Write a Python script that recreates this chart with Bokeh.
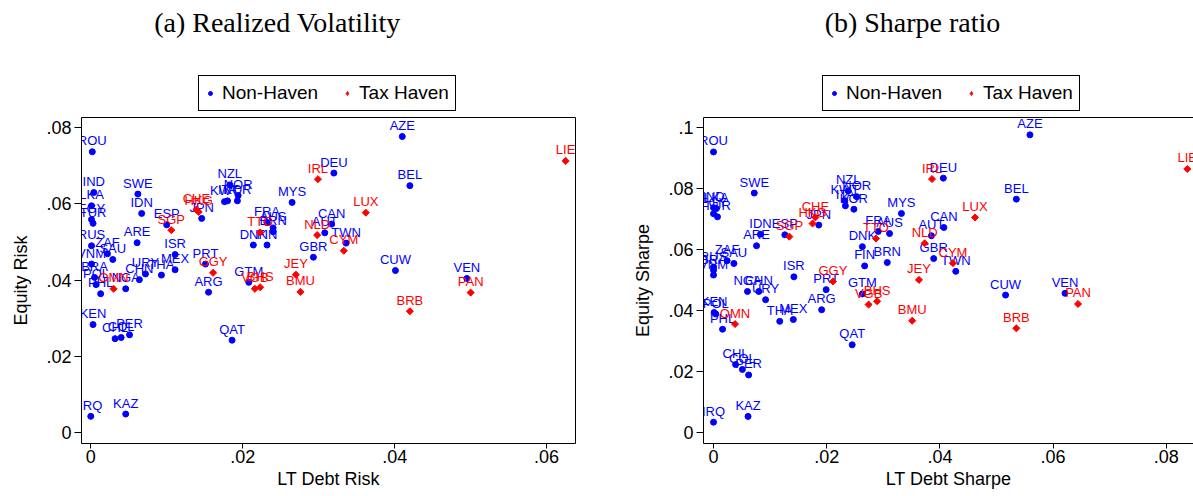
from bokeh.plotting import figure
from bokeh.models import (ColumnDataSource, Range1d, FixedTicker, CustomJSTickFormatter,
                          Legend, LegendItem, Label, LinearAxis)
from bokeh.layouts import row, column
from bokeh.embed import file_html
from bokeh.resources import INLINE
from bokeh.core.properties import value

countries = ["ROU","IND","LKA","EGY","TUR","RUS","ZAF","SAU","VNM","BRA","POL","PHL","NGA","CHN",
             "URY","THA","MEX","ISR","ARE","SWE","IDN","ESP","JPN","PRT","ARG","KEN","CHL","COL",
             "PER","IRQ","KAZ","QAT","GTM","KWT","ITA","KOR","NOR","NZL","MYS","DEU","FRA","AUS",
             "BRN","DNK","FIN","CAN","AUT","TWN","GBR","AZE","BEL","CUW","VEN",
             "CHE","HKG","SGP","GGY","OMN","TTO","VGB","BHS","JEY","BMU","IRL","NLD","CYM","LUX",
             "BRB","PAN","LIE"]
haven = [0]*53 + [1]*17

vol_debt = [.0002,.0004,.0001,.0001,.0003,.0001,.0022,.0029,.0001,.0005,.0007,.0013,.0046,.0064,
            .0072,.0093,.0111,.0111,.0061,.0062,.0067,.0100,.0146,.0151,.0155,.0003,.0032,.0040,
            .0051,.0000,.0046,.0186,.0208,.0176,.0180,.0193,.0194,.0183,.0265,.0320,.0232,.0240,
            .0240,.0214,.0232,.0317,.0308,.0336,.0293,.0410,.0420,.0401,.0495,
            .0139,.0142,.0106,.0161,.0030,.0223,.0216,.0223,.0270,.0276,.0299,.0298,.0333,.0362,
            .0420,.0500,.0625]
vol_equity = [.0737,.0630,.0595,.0559,.0549,.0490,.0469,.0454,.0442,.0407,.0388,.0364,.0377,.0401,
              .0416,.0413,.0427,.0467,.0498,.0626,.0575,.0545,.0562,.0442,.0368,.0283,.0246,.0249,
              .0256,.0042,.0048,.0242,.0394,.0606,.0608,.0608,.0622,.0650,.0604,.0681,.0551,.0537,
              .0527,.0492,.0492,.0547,.0524,.0497,.0460,.0777,.0648,.0425,.0404,
              .0585,.0579,.0531,.0419,.0377,.0525,.0377,.0381,.0414,.0369,.0665,.0518,.0477,.0577,
              .0318,.0367,.0713]
sharpe_debt = [.0000,.0000,.0005,.0000,.0007,.0000,.0024,.0036,.0000,.0000,.0004,.0016,.0060,.0080,
               .0092,.0117,.0141,.0142,.0076,.0072,.0083,.0126,.0186,.0199,.0191,.0001,.0039,.0051,
               .0062,.0000,.0061,.0245,.0263,.0232,.0233,.0248,.0253,.0238,.0332,.0406,.0291,.0311,
               .0307,.0263,.0267,.0407,.0385,.0428,.0389,.0559,.0535,.0516,.0621,
               .0180,.0175,.0134,.0211,.0038,.0287,.0274,.0289,.0363,.0351,.0386,.0373,.0423,.0462,
               .0535,.0644,.0837]
sharpe_equity = [.0920,.0737,.0734,.0717,.0707,.0542,.0563,.0554,.0516,.0532,.0388,.0338,.0462,.0462,
                 .0435,.0364,.0370,.0510,.0612,.0785,.0650,.0648,.0680,.0468,.0402,.0393,.0222,.0206,
                 .0188,.0033,.0052,.0287,.0454,.0760,.0743,.0732,.0773,.0792,.0718,.0834,.0659,.0652,
                 .0557,.0609,.0546,.0672,.0645,.0528,.0570,.0976,.0765,.0450,.0456,
                 .0705,.0685,.0642,.0495,.0355,.0636,.0419,.0430,.0500,.0366,.0831,.0620,.0555,.0705,
                 .0341,.0421,.0864]

FONT = "Liberation Sans"
BLUE = "#0000ff"
RED = "#ff0000"

fmt = CustomJSTickFormatter(code="""
if (Math.abs(tick) < 1e-9) { return "0"; }
let t = tick.toFixed(2).replace(/^0/, "");
t = t.replace(/0+$/, "");
return t;
""")


def bare_axis():
    return LinearAxis(ticker=FixedTicker(ticks=[]), major_tick_line_color=None,
                      minor_tick_line_color=None, major_label_text_font_size="0px",
                      major_tick_out=0, major_tick_in=0, major_label_standoff=0,
                      axis_line_color="black")


def header(width, title, title_x, leg_x):
    h = figure(output_backend="svg", toolbar_location=None, width=width, height=113,
               x_axis_type=None, y_axis_type=None, min_border=0,
               x_range=Range1d(0, width), y_range=Range1d(0, 113))
    h.grid.visible = False
    h.outline_line_color = None
    h.background_fill_color = "white"
    h.border_fill_color = "white"
    # legend-only renderers: a single point placed far outside the visible range
    rb = h.scatter(x=[-1000], y=[-1000], marker="circle", size=6,
                   fill_color=BLUE, line_color=BLUE)
    rr = h.scatter(x=[-1000], y=[-1000], marker="diamond", size=9,
                   fill_color=RED, line_color=RED)
    leg = Legend(items=[LegendItem(label="Non-Haven", renderers=[rb]),
                        LegendItem(label="Tax Haven", renderers=[rr])],
                 orientation="horizontal", location=(leg_x, 2))
    leg.label_text_font = FONT
    leg.label_text_font_size = "19px"
    leg.label_text_color = "black"
    leg.border_line_color = "black"
    leg.border_line_width = 1
    leg.border_line_alpha = 1
    leg.background_fill_color = "white"
    leg.background_fill_alpha = 1
    leg.padding = 6
    leg.margin = 0
    leg.spacing = 24
    leg.glyph_width = 10
    leg.glyph_height = 20
    leg.label_standoff = 7
    leg.label_height = 20
    h.add_layout(leg)
    h.add_layout(Label(x=title_x, y=91, text=title, text_font="Liberation Serif",
                       text_font_size="28px", text_color="black", text_align="center",
                       text_baseline="middle"))
    return h


def panel(xv, yv, xr, yr, xticks, yticks, xlabel, ylabel, left, right, fw, boxed):
    p = figure(output_backend="svg", toolbar_location=None,
               frame_width=fw, frame_height=326,
               min_border_left=left, min_border_right=right, min_border_top=4,
               min_border_bottom=10,
               x_range=Range1d(*xr), y_range=Range1d(*yr))
    p.grid.visible = False
    p.background_fill_color = "white"
    p.border_fill_color = "white"
    p.outline_line_color = None

    xa = p.below[0]
    xa.ticker = FixedTicker(ticks=xticks)
    ya = p.left[0]
    ya.ticker = FixedTicker(ticks=yticks)
    for ax in (xa, ya):
        ax.formatter = fmt
        ax.axis_line_color = "black"
        ax.major_tick_line_color = "black"
        ax.minor_tick_line_color = None
        ax.major_tick_in = 0
        ax.major_label_text_font = FONT
        ax.major_label_text_font_size = "18px"
        ax.major_label_text_color = "black"
        ax.axis_label_text_font = FONT
        ax.axis_label_text_font_size = "18px"
        ax.axis_label_text_font_style = "normal"
        ax.axis_label_text_color = "black"
    xa.axis_label = xlabel
    ya.axis_label = ylabel
    xa.major_tick_out = 5
    xa.major_label_standoff = 1
    xa.axis_label_standoff = 3
    ya.major_tick_out = 7
    ya.major_label_standoff = 3
    ya.axis_label_standoff = 12
    ya.major_label_orientation = "horizontal"

    p.add_layout(bare_axis(), "above")
    if boxed:
        p.add_layout(bare_axis(), "right")

    for h, col in ((0, BLUE), (1, RED)):
        idx = [i for i in range(len(countries)) if haven[i] == h]
        src = ColumnDataSource(dict(
            x=[xv[i] for i in idx], y=[yv[i] for i in idx], t=[countries[i] for i in idx]))
        if h == 0:
            p.scatter("x", "y", source=src, marker="circle", size=6,
                      fill_color=col, line_color=col)
        else:
            p.scatter("x", "y", source=src, marker="square", size=5, angle=0.785398,
                      fill_color=col, line_color=col)
        p.text("x", "y", text="t", source=src, text_font=value(FONT), text_font_size="13px",
               text_color=col, text_align="center", text_baseline="alphabetic", y_offset=-11)
    return p


ha = header(590, "(a) Realized Volatility", 277, 198)
hb = header(603, "(b) Sharpe ratio", 322, 232)

pa = panel(vol_debt, vol_equity, (-0.00122, 0.0638), (-0.00294, 0.0827),
           [0, 0.02, 0.04, 0.06], [0, 0.02, 0.04, 0.06, 0.08],
           "LT Debt Risk", "Equity Risk", 81, 15, 494, True)
pb = panel(sharpe_debt, sharpe_equity, (-0.00177, 0.0848), (-0.0037, 0.1033),
           [0, 0.02, 0.04, 0.06, 0.08], [0, 0.02, 0.04, 0.06, 0.08, 0.1],
           "LT Debt Sharpe", "Equity Sharpe", 113, 0, 490, False)

layout = column(row(ha, hb), row(pa, pb))
open("out.html", "w").write(file_html(layout, INLINE))
